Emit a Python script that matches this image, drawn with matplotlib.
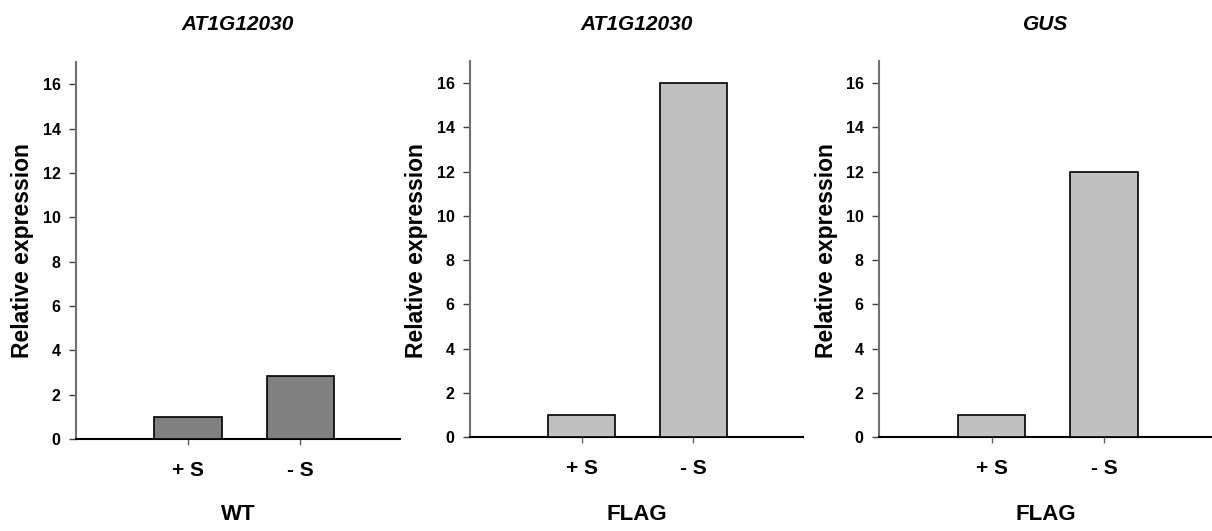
import matplotlib
matplotlib.use("Agg")
import matplotlib.pyplot as plt

# ---- data ----
categories = ["+ S", "- S"]
titles = ["AT1G12030", "AT1G12030", "GUS"]
groups = ["WT", "FLAG", "FLAG"]
values_wt_at1g = [1.0, 2.83]
values_flag_at1g = [1.0, 16.0]
values_flag_gus = [1.0, 12.0]
series = [values_wt_at1g, values_flag_at1g, values_flag_gus]
bar_colors = ["#808080", "#c0c0c0", "#c0c0c0"]
yticks = [0, 2, 4, 6, 8, 10, 12, 14, 16]
ylabel = "Relative expression"

plt.rcParams['font.family'] = ['Liberation Sans', 'DejaVu Sans']
plt.rcParams['font.weight'] = 'bold'

W, H = 1212, 531
fig = plt.figure(figsize=(W / 100, H / 100), dpi=100)

# pixel layout: (left, right, bottom, top, xlim_right, ylabel_x)
layout = [
    (76, 400, 439, 62, 1.89, 23),
    (470, 803, 437, 61, 1.98, 416),
    (879, 1212, 437, 61, 1.96, 826),
]

for i, (l, r, b, t, xr, ylx) in enumerate(layout):
    ax = fig.add_axes([l / W, 1 - b / H, (r - l) / W, (b - t) / H])
    x = list(range(len(categories)))
    ax.bar(x, series[i], width=0.6, color=bar_colors[i], edgecolor="black",
           linewidth=1.2, zorder=3)
    ax.set_xlim(-1.0, xr)
    ax.set_ylim(0, 17)
    ax.set_xticks(x)
    ax.set_xticklabels(categories, fontsize=15, fontweight='bold')
    ax.set_yticks(yticks)
    ax.set_yticklabels([str(v) for v in yticks], fontsize=11.5, fontweight='bold')
    ax.tick_params(axis='y', direction='out', length=5, width=1.0, pad=6,
                   color='#404040')
    ax.tick_params(axis='x', direction='out', length=4, width=1.0, pad=12,
                   color='#606060')
    for s in ('top', 'right'):
        ax.spines[s].set_visible(False)
    ax.spines['left'].set_color('#707070')
    ax.spines['left'].set_linewidth(1.5)
    ax.spines['bottom'].set_color('black')
    ax.spines['bottom'].set_linewidth(1.5)
    ax.set_facecolor('none')

    cx = (l + r) / 2 / W
    fig.text(cx, 1 - 24 / H, titles[i], ha='center', va='center',
             fontsize=15, fontweight='bold', fontstyle='italic')
    fig.text(cx, 1 - 515 / H, groups[i], ha='center', va='center',
             fontsize=16, fontweight='bold')
    fig.text(ylx / W, 1 - 251 / H, ylabel, ha='center', va='center',
             rotation=90, fontsize=16.5, fontweight='bold')

fig.savefig("out.png", dpi=100)
